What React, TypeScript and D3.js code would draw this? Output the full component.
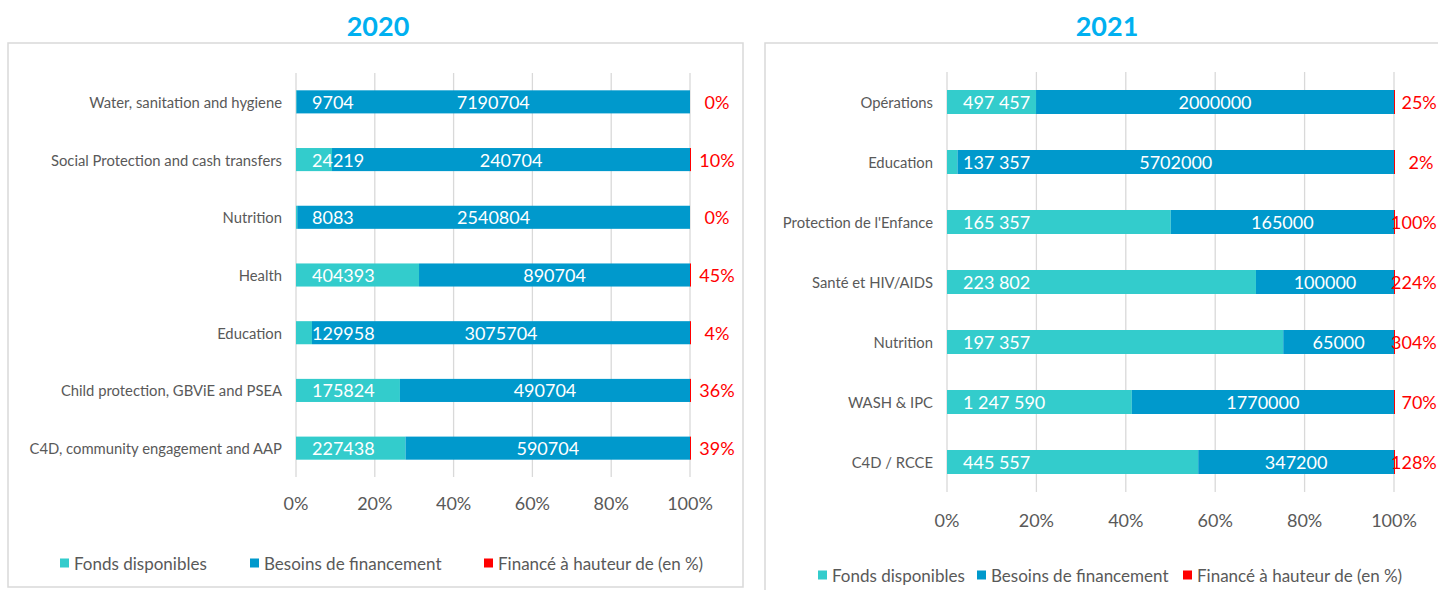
import React from "react";
import * as d3 from "d3";

// ---------- DATA ----------
const categories2020 = [
  "Water, sanitation and hygiene",
  "Social Protection and cash transfers",
  "Nutrition",
  "Health",
  "Education",
  "Child protection, GBViE and PSEA",
  "C4D, community engagement and AAP",
];
const funds2020 = [9704, 24219, 8083, 404393, 129958, 175824, 227438];
const needs2020 = [7190704, 240704, 2540804, 890704, 3075704, 490704, 590704];
const pct2020 = [0, 0.1, 0, 0.45, 0.04, 0.36, 0.39];

const categories2021 = [
  "Opérations",
  "Education",
  "Protection de l'Enfance",
  "Santé et HIV/AIDS",
  "Nutrition",
  "WASH & IPC",
  "C4D / RCCE",
];
const funds2021 = [497457, 137357, 165357, 223802, 197357, 1247590, 445557];
const needs2021 = [2000000, 5702000, 165000, 100000, 65000, 1770000, 347200];
const pct2021 = [0.25, 0.02, 1.0, 2.24, 3.04, 0.7, 1.28];

const ticks = [0, 0.2, 0.4, 0.6, 0.8, 1];
const seriesNames = ["Fonds disponibles", "Besoins de financement", "Financé à hauteur de (en %)"];
const seriesColors = ["#33CCCC", "#0099CC", "#FF0000"];

// ---------- STYLE ----------
const FONT = "Lato, 'Open Sans', sans-serif";
const GRAY = "#595959";
const GRID = "#D9D9D9";

type PanelProps = {
  title: string;
  categories: string[];
  funds: number[];
  needs: number[];
  pct: number[];
  spaceFunds: boolean;
  box: { x: number; y: number; w: number; h: number };
  plot: { x0: number; x1: number; y0: number; y1: number };
  tickY: number;
  legendY: number;
  legendX: number[];
  titleX: number;
  maxX: number;
};

const spaced = (v: number) => d3.format(",")(v).replace(/,/g, " ");
const pctFmt = d3.format(".0%");

function Panel(p: PanelProps) {
  const rows = p.categories.map((c, i) => ({ cat: c, funds: p.funds[i], needs: p.needs[i], pct: p.pct[i] }));
  const stack = d3
    .stack<any>()
    .keys(["funds", "needs", "pct"])
    .offset(d3.stackOffsetExpand);
  const series = stack(rows);
  const x = d3.scaleLinear().domain([0, 1]).range([p.plot.x0, p.plot.x1]);
  const y = d3
    .scaleBand<string>()
    .domain(p.categories)
    .range([p.plot.y0, p.plot.y1])
    .paddingInner(0.6)
    .paddingOuter(0.3);
  const bw = y.bandwidth();
  return (
    <g>
      <text x={p.titleX} y={36} textAnchor="middle" fontFamily={FONT} fontWeight={700} fontSize={27} fill="#00B0F0">
        {p.title}
      </text>
      <rect x={p.box.x} y={p.box.y} width={p.box.w} height={p.box.h} fill="#fff" stroke={GRID} strokeWidth={1.5} />
      {ticks.map((t) => (
        <line key={t} x1={x(t)} x2={x(t)} y1={p.plot.y0} y2={p.plot.y1} stroke={GRID} strokeWidth={1.3} />
      ))}
      {series.map((s, si) =>
        s.map((d, i) => {
          const w = x(d[1]) - x(d[0]);
          const v = (rows[i] as any)[s.key];
          if (v <= 0) return null;
          return (
            <rect
              key={s.key + i}
              x={x(d[0])}
              y={y(rows[i].cat)}
              width={Math.max(w, si === 2 ? 1 : 0.5)}
              height={bw}
              fill={seriesColors[si]}
            />
          );
        })
      )}
      {rows.map((r, i) => {
        const cy = (y(r.cat) as number) + bw / 2;
        const b = series[1][i];
        const label = pctFmt(r.pct);
        const estW = (label.length - 1) * 10.4 + 15;
        const px = Math.min(p.plot.x1 + 27, p.maxX - estW / 2);
        return (
          <g key={r.cat}>
            <text x={p.plot.x0 - 14} y={cy} textAnchor="end" dominantBaseline="central" fontFamily={FONT} fontSize={14.8} fill={GRAY}>
              {r.cat}
            </text>
            <text x={p.plot.x0 + 16} y={cy} dominantBaseline="central" fontFamily={FONT} fontSize={18} fill="#fff">
              {p.spaceFunds ? spaced(r.funds) : String(r.funds)}
            </text>
            <text x={(x(b[0]) + x(b[1])) / 2} y={cy} textAnchor="middle" dominantBaseline="central" fontFamily={FONT} fontSize={18} fill="#fff">
              {String(r.needs)}
            </text>
            <text x={px} y={cy} textAnchor="middle" dominantBaseline="central" fontFamily={FONT} fontSize={18} fill="#FF0000">
              {label}
            </text>
          </g>
        );
      })}
      {ticks.map((t) => (
        <text key={t} x={x(t)} y={p.tickY} textAnchor="middle" dominantBaseline="central" fontFamily={FONT} fontSize={18} fill={GRAY}>
          {pctFmt(t)}
        </text>
      ))}
      {seriesNames.map((n, i) => (
        <g key={n}>
          <rect x={p.legendX[i]} y={p.legendY - 4.5} width={9} height={9} fill={seriesColors[i]} />
          <text x={p.legendX[i] + 14} y={p.legendY} dominantBaseline="central" fontFamily={FONT} fontSize={17} fill={GRAY}>
            {n}
          </text>
        </g>
      ))}
    </g>
  );
}

export default function App() {
  return (
    <svg width={1438} height={590} style={{ position: "absolute", left: 0, top: 0 }}>
      <rect width={1438} height={590} fill="#fff" />
      <Panel
        title="2020"
        categories={categories2020}
        funds={funds2020}
        needs={needs2020}
        pct={pct2020}
        spaceFunds={false}
        box={{ x: 8, y: 43, w: 735, h: 544 }}
        plot={{ x0: 296, x1: 690, y0: 73, y1: 477 }}
        tickY={503}
        legendY={563}
        legendX={[60, 250, 484]}
        titleX={378}
        maxX={741}
      />
      <Panel
        title="2021"
        categories={categories2021}
        funds={funds2021}
        needs={needs2021}
        pct={pct2021}
        spaceFunds={true}
        box={{ x: 765, y: 43, w: 700, h: 570 }}
        plot={{ x0: 947, x1: 1394, y0: 72, y1: 492 }}
        tickY={520}
        legendY={575}
        legendX={[818, 977, 1183]}
        titleX={1107}
        maxX={1437}
      />
    </svg>
  );
}
